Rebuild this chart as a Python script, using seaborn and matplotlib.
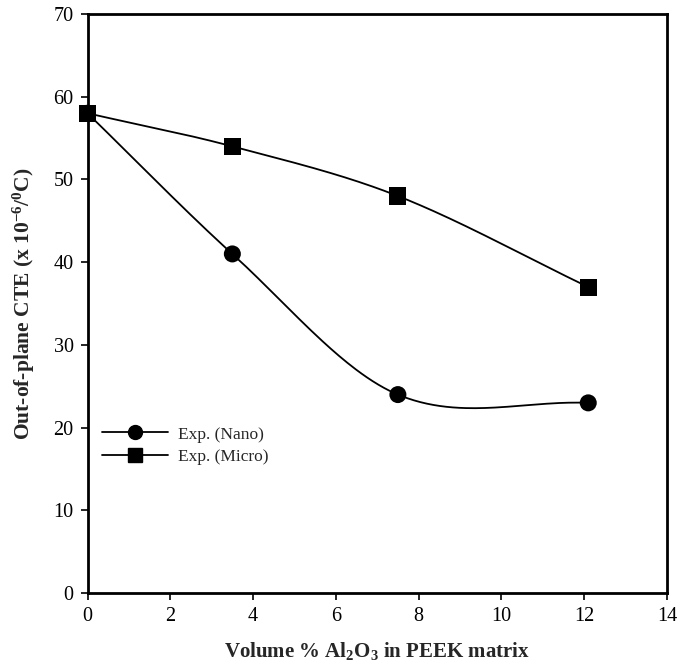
import numpy as np
import pandas as pd
import matplotlib
matplotlib.use("Agg")
import matplotlib.pyplot as plt
from matplotlib.lines import Line2D
import seaborn as sns

# ---- data ----
vol_pct = [0.0, 3.5, 7.5, 12.1]
cte_nano = [58, 41, 24, 23]
cte_micro = [58, 54, 48, 37]
series_labels = ["Exp. (Nano)", "Exp. (Micro)"]
x_ticks = [0, 2, 4, 6, 8, 10, 12, 14]
y_ticks = [0, 10, 20, 30, 40, 50, 60, 70]


def smooth_curve(x, y, n=60):
    """Piecewise cubic Hermite through the points (Catmull-Rom style tangents)."""
    x = np.asarray(x, float)
    y = np.asarray(y, float)
    k = len(x)
    m = np.zeros(k)
    m[0] = (y[1] - y[0]) / (x[1] - x[0])
    m[-1] = (y[-1] - y[-2]) / (x[-1] - x[-2])
    for i in range(1, k - 1):
        m[i] = (y[i + 1] - y[i - 1]) / (x[i + 1] - x[i - 1])
    xs_all, ys_all = [], []
    for i in range(k - 1):
        h = x[i + 1] - x[i]
        t = np.linspace(0, 1, n)
        h00 = 2 * t ** 3 - 3 * t ** 2 + 1
        h10 = t ** 3 - 2 * t ** 2 + t
        h01 = -2 * t ** 3 + 3 * t ** 2
        h11 = t ** 3 - t ** 2
        ys = h00 * y[i] + h10 * h * m[i] + h01 * y[i + 1] + h11 * h * m[i + 1]
        xs_all.append(x[i] + t * h)
        ys_all.append(ys)
    return np.concatenate(xs_all), np.concatenate(ys_all)


sns.set_style("ticks")
plt.rcParams["font.family"] = ["Liberation Serif", "DejaVu Serif"]
plt.rcParams["mathtext.default"] = "regular"

fig = plt.figure(figsize=(6.8, 6.65), dpi=100)
ax = fig.add_axes([0.1287, 0.108, 0.852, 0.871])

curves = []
for vals, lab in zip([cte_nano, cte_micro], series_labels):
    xs, ys = smooth_curve(vol_pct, vals)
    curves.append(pd.DataFrame({"x": xs, "y": ys, "series": lab}))
curve_df = pd.concat(curves)
pts_df = pd.concat([
    pd.DataFrame({"x": vol_pct, "y": cte_nano, "series": series_labels[0]}),
    pd.DataFrame({"x": vol_pct, "y": cte_micro, "series": series_labels[1]}),
])

sns.lineplot(data=curve_df, x="x", y="y", units="series", estimator=None,
             color="black", linewidth=1.3, ax=ax, legend=False, sort=False)
sns.scatterplot(data=pts_df, x="x", y="y", style="series",
                markers={series_labels[0]: "o", series_labels[1]: "s"},
                color="black", s=150, edgecolor="black", linewidth=0,
                ax=ax, legend=False, zorder=3, clip_on=False)

ax.set_xlim(0, 14)
ax.set_ylim(0, 70)
ax.set_xticks(x_ticks)
ax.set_yticks(y_ticks)
ax.tick_params(direction="out", length=5, width=1.2, labelsize=14.5,
               colors="black", pad=5)
for sp in ax.spines.values():
    sp.set_visible(True)
    sp.set_linewidth(2)
    sp.set_color("black")

ax.set_xlabel("Volume % Al$_2$O$_3$ in PEEK matrix", fontsize=15,
              fontweight="bold", labelpad=10)
ax.set_ylabel("Out-of-plane CTE (x 10$^{-6}$/$^{0}$C)", fontsize=15.5,
              fontweight="bold", labelpad=12)

handles = [
    Line2D([], [], color="black", lw=1.3, marker="o", markersize=10),
    Line2D([], [], color="black", lw=1.3, marker="s", markersize=10),
]
ax.legend(handles, series_labels, loc="upper left",
          bbox_to_anchor=(0.025, 0.288), frameon=False, fontsize=12.5,
          handlelength=3.8, handletextpad=0.6, labelspacing=0.35,
          borderaxespad=0, borderpad=0)

fig.savefig("out.png", dpi=100)
